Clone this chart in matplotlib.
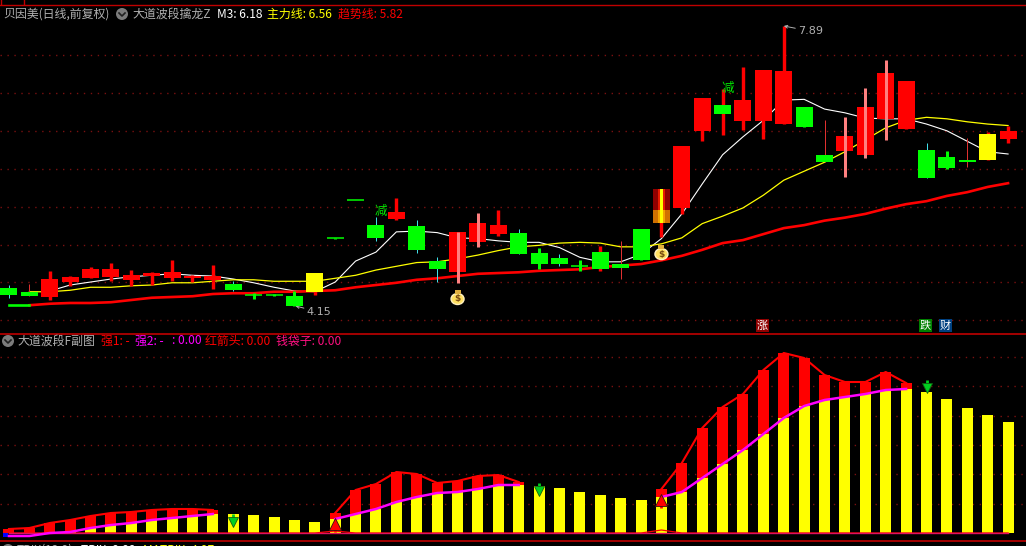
import matplotlib
matplotlib.use("Agg")
import matplotlib.pyplot as plt
import numpy as np
from matplotlib.colors import LinearSegmentedColormap
from matplotlib.patches import Circle, Ellipse, Rectangle

plt.rcParams['font.family'] = ['Noto Sans CJK SC', 'DejaVu Sans']

W, H = 1026, 546
nan = np.nan

# K线 data, one value per day
opens = [4.39, 4.34, 4.27, 4.47, 4.52, 4.54, 4.50, 4.55, 4.52, 4.52,
         4.50, 4.44, 4.30, 4.30, 4.28, 4.34, 5.06, 5.57, 5.23, 5.31,
         5.22, 4.75, 4.60, 5.00, 5.11, 5.13, 4.86, 4.79, 4.68, 4.87,
         4.71, 5.18, 5.26, 5.46, 6.49, 6.83, 6.62, 6.62, 6.58, 6.81,
         6.17, 6.22, 6.17, 6.65, 6.51, 6.23, 6.14, 6.10, 6.10, 6.38]
closes = [4.30, 4.28, 4.51, 4.54, 4.64, 4.64, 4.56, 4.59, 4.60, 4.55,
          4.55, 4.36, 4.28, 4.28, 4.15, 4.59, 5.05, 5.56, 5.06, 5.41,
          4.90, 4.64, 5.14, 5.26, 5.23, 4.84, 4.71, 4.71, 4.66, 4.64,
          4.66, 4.77, 5.71, 6.29, 6.93, 6.71, 6.90, 7.30, 7.29, 6.54,
          6.07, 6.42, 6.81, 7.26, 7.16, 5.86, 5.99, 6.07, 6.45, 6.49]
highs = [4.43, 4.44, 4.62, 4.55, 4.67, 4.72, 4.63, 4.60, 4.76, 4.56,
         4.70, 4.48, 4.32, 4.31, 4.35, 4.59, 5.06, 5.57, 5.34, 5.59,
         5.30, 4.81, 5.14, 5.39, 5.43, 5.18, 4.93, 4.84, 4.76, 4.95,
         5.02, 5.18, 5.71, 6.29, 6.93, 7.05, 7.34, 7.30, 7.89, 6.81,
         6.63, 6.67, 7.06, 7.44, 7.16, 6.33, 6.22, 6.39, 6.47, 6.55]
lows = [4.26, 4.28, 4.23, 4.42, 4.52, 4.48, 4.42, 4.43, 4.48, 4.47,
        4.38, 4.35, 4.24, 4.28, 4.15, 4.30, 5.05, 5.56, 5.02, 5.30,
        4.86, 4.47, 4.46, 4.94, 5.09, 4.84, 4.64, 4.68, 4.62, 4.62,
        4.51, 4.77, 5.07, 5.38, 6.35, 6.43, 6.50, 6.38, 6.58, 6.54,
        6.07, 5.87, 6.13, 6.37, 6.51, 5.86, 5.98, 6.01, 6.10, 6.33]

# r red, g green, y yellow, f flame
body_kinds = list("ggrrrrrrrrr" "gggg" "y" "ggg" "r" "gg" "rrr" "ggggggg" "f" "rr" "g" "rrr" "gg" "rrrr" "ggg" "y" "r")
# c cyan, r thick red, t thin red, p pink, g green
wick_kinds = list("ctrrrrrrrrr" "cggg" "r" "gg" "c" "r" "cc" "ppr" "cgcgr" "t" "g" "rr" "rrrrr" "g" "t" "ppp" "r" "c" "g" "t" "rr")

ma_white = [4.35, 4.43, 4.47, 4.51, 4.54, 4.56, 4.58, 4.56, 4.55, 4.51,
            4.46, 4.40, 4.35, 4.34,
            4.47, 4.75, 4.87, 5.14, 5.15, 5.13, 5.06, 5.05, 5.02, 5.00,
            5.00, 4.93, 4.80, 4.74, 4.74, 4.84, 5.05, 5.38, 5.78, 6.17,
            6.41, 6.63, 6.90, 6.91, 6.78, 6.73, 6.66, 6.65, 6.65, 6.58,
            6.49, 6.35, 6.21, 6.18]
ma_yellow = [4.34, 4.34, 4.36, 4.40, 4.40, 4.42, 4.43, 4.46, 4.46, 4.48,
             4.50, 4.50, 4.48, 4.48, 4.48, 4.52, 4.56, 4.63, 4.68, 4.73,
             4.74, 4.78, 4.83, 4.89, 4.94, 4.96, 4.99, 5.00, 4.99, 4.94,
             4.94, 4.98, 5.06, 5.25, 5.35, 5.46, 5.63, 5.83, 5.95, 6.07,
             6.21, 6.37, 6.53, 6.63, 6.67, 6.65, 6.61, 6.58, 6.56]
ma_red = [4.16, 4.16, 4.18, 4.19, 4.19, 4.20, 4.23, 4.26, 4.27, 4.28,
          4.31, 4.32, 4.32, 4.34, 4.34, 4.35, 4.36, 4.40, 4.43, 4.46,
          4.50, 4.52, 4.55, 4.58, 4.59, 4.60, 4.62, 4.63, 4.64, 4.67,
          4.69, 4.71, 4.76, 4.82, 4.90, 4.99, 5.03, 5.11, 5.19, 5.23,
          5.29, 5.33, 5.38, 5.45, 5.51, 5.55, 5.62, 5.67, 5.74, 5.79]

# 副图
trix = [0.20, 0.25, 0.50, 0.65, 0.85, 1.00, 1.05, 1.15, 1.20, 1.20,
        1.15, 0.95, 0.90, 0.80, 0.65, 0.55, 1.00, 2.15, 2.45, 3.05,
        2.95, 2.50, 2.60, 2.85, 2.90, 2.55, 2.35, 2.25, 2.05, 1.90,
        1.75, 1.65, 2.20, 3.50, 5.25, 6.30, 6.95, 8.15, 9.00, 8.75,
        7.90, 7.55, 7.55, 8.05, 7.50, 7.05, 6.70, 6.25, 5.90, 5.55]
matrix = [-0.15, -0.15, 0.00, 0.05, 0.25, 0.40, 0.50, 0.65, 0.75, 0.85,
          0.95, nan, nan, nan, nan, nan, 0.70, 0.95, 1.20, 1.55,
          1.80, 2.00, 2.05, 2.20, 2.40, 2.40, nan, nan, nan, nan,
          nan, nan, 1.80, 2.05, 2.75, 3.45, 4.15, 4.95, 5.75, 6.35,
          6.65, 6.80, 6.95, 7.15, 7.20, nan, nan, nan, nan, nan]
hong_line = [0, 0, 0, 0, 0, 0, 0, 0, 0, 0,
             0, 0, 0, 0, 0, 0, 0.10, 0, 0, 0,
             0, 0, 0, 0, 0, 0, 0, 0, 0, 0,
             0, 0, 0.15, 0, 0, 0, 0, 0, 0, 0,
             0, 0, 0, 0, 0, 0, 0, 0, 0, 0]
green_arrows = [11, 26, 45]
green_tips = [0.35, 1.90, 7.05]
red_arrows = [16, 32]
red_tips = [0.60, 1.80]
bag_days = [22, 32]
bag_prices = [4.27, 4.87]

price_grid = [7.50, 6.99, 6.49, 5.98, 5.47, 4.96, 4.47, 3.96]
sub_grid = [8.80, 7.35, 5.85, 4.40, 2.95, 1.45]

body_colors = {'r': '#ff0000', 'g': '#00ff00', 'y': '#ffff00', 'f': '#ff0000'}
wick_styles = {'c': ('#40e0e8', 1.0), 'r': ('#ff0000', 3.4), 't': ('#e03030', 1.0),
               'p': ('#ff8080', 3.0), 'g': ('#00ff00', 3.0)}
DOT = (0, (1, 4))
GRID = '#7a1010'


def to_fig(x0, y0, x1, y1):
    return [x0 / W, 1 - y1 / H, (x1 - x0) / W, (y1 - y0) / H]


fig = plt.figure(figsize=(W / 100, H / 100), dpi=100, facecolor='black')

ax = fig.add_axes(to_fig(0, 5, W, 333), facecolor='black')
ax2 = fig.add_axes(to_fig(0, 334, W, 540), facecolor='black')
over = fig.add_axes([0, 0, 1, 1], facecolor='none')
over.set_xlim(0, W)
over.set_ylim(H, 0)
over.axis('off')

days = np.arange(len(opens))
for a in (ax, ax2):
    a.set_xlim(-0.441, 49.88)
    a.set_xticks([])
    a.set_yticks([])
    for s in a.spines.values():
        s.set_visible(False)

# price panel: y pixel 26 is 7.89, y pixel 306 is 4.15
ylim_price = (8.237 - 333 * 0.013357, 8.237 - 5 * 0.013357)
ax.set_ylim(*ylim_price)
for g in price_grid:
    ax.axhline(g, color=GRID, lw=1, ls=DOT, zorder=1)

ax.plot(days[2:], ma_white, color='white', lw=0.8, zorder=2)
ax.plot(days[1:], ma_yellow, color='#ffff00', lw=0.9, zorder=2)
ax.plot(days[1:], ma_red[1:], color='#ff0000', lw=1.9, zorder=2)
ax.plot(days[:2], ma_red[:2], color='#00ff00', lw=1.9, zorder=3)

flame_top = LinearSegmentedColormap.from_list('flame_top', ['#900000', '#ff2000', '#ffff00'])
flame_low = LinearSegmentedColormap.from_list('flame_low', ['#d07000', '#ffb000', '#ffff00'])
flame_grad = np.array([0.0, 0.0, 0.4, 1, 0.4, 0.0, 0.0])[None, :]

bw = 17 / 20.39
for i in days:
    wc, ww = wick_styles[wick_kinds[i]]
    ax.plot([i, i], [lows[i], highs[i]], color=wc, lw=ww * 0.72,
            zorder=5 if wick_kinds[i] == 'p' else 3, solid_capstyle='butt')
    lo, hi = sorted((opens[i], closes[i]))
    kind = body_kinds[i]
    if kind == 'f':
        mid = lo + (hi - lo) * 0.38
        ax.imshow(flame_grad, cmap=flame_top, extent=(i - bw / 2, i + bw / 2, mid, hi),
                  aspect='auto', zorder=4, vmin=0, vmax=1, interpolation='nearest')
        ax.imshow(flame_grad, cmap=flame_low, extent=(i - bw / 2, i + bw / 2, lo, mid),
                  aspect='auto', zorder=4, vmin=0, vmax=1, interpolation='nearest')
    elif hi - lo < 0.02:
        # nearly flat day, a filled box this thin can vanish when rendered
        ax.plot([i - bw / 2, i + bw / 2], [hi, hi], color=body_colors[kind], lw=1.1,
                solid_capstyle='butt', zorder=4)
    else:
        ax.add_patch(Rectangle((i - bw / 2, lo), bw, hi - lo, fc=body_colors[kind],
                               ec='none', lw=0, zorder=4, snap=True))
ax.set_xlim(-0.441, 49.88)
ax.set_ylim(*ylim_price)

# 减 marks and high / low notes
for i, y in [(18, 5.41), (35, 7.05)]:
    ax.text(i + 0.25, y, '减', color='#00e800', fontsize=9, ha='center', va='center', zorder=6)
note_arrow = dict(arrowstyle='->', color='#b0b0b0', lw=0.7, shrinkA=0, shrinkB=0, mutation_scale=5)
ax.annotate('7.89', xy=(38, 7.89), xytext=(38.7, 7.82), color='#b0b0b0', fontsize=8, va='center',
            family='DejaVu Sans', arrowprops=note_arrow)
ax.annotate('4.15', xy=(14.05, 4.15), xytext=(14.6, 4.07), color='#b0b0b0', fontsize=8, va='center',
            family='DejaVu Sans', arrowprops=note_arrow)

# money bags
for i, y in zip(bag_days, bag_prices):
    xd = ax.transData.transform((i, y))
    px, py = xd[0], H - xd[1]
    over.add_patch(Ellipse((px, py + 2), 13, 11, fc='#ffe060', ec='#fff0c0', lw=1, zorder=7))
    over.add_patch(Rectangle((px - 3, py - 7), 6, 4, fc='#e0b040', ec='none', zorder=7))
    over.text(px, py + 2, '$', color='#7a4a10', fontsize=6.5, ha='center', va='center', weight='bold',
              family='DejaVu Sans', zorder=8)

# sub panel: y pixel 533 is zero, 0.05 per pixel
ax2.set_ylim(-7 * 0.05, 199 * 0.05)
for g in sub_grid:
    ax2.axhline(g, color=GRID, lw=1, ls=DOT, zorder=1)

trix_arr = np.array(trix)
matrix_arr = np.array(matrix)
yellow_h = np.clip(np.where(np.isnan(matrix_arr), trix_arr, np.minimum(trix_arr, matrix_arr)), 0, None)
yellow_h[:3] = 0
bar_w = 11 / 20.39
ax2.bar(days, yellow_h, width=bar_w, color='#ffff00', lw=0, zorder=2)
ax2.bar(days, trix_arr - yellow_h, bottom=yellow_h, width=bar_w, color='#ff0000', lw=0, zorder=3)
ax2.bar([-0.3], [-0.2], width=5 / 20.39, color='#0000ff', lw=0, zorder=3, align='edge')

trix_line = np.where(np.isnan(matrix_arr), nan, trix_arr)
ax2.plot(days, trix_line, color='#ff0000', lw=1.5, zorder=4)
ax2.plot(days, hong_line, color='#ff0000', lw=0.9, zorder=4)
ax2.plot(days, np.zeros(len(days)), color='#e01060', lw=1.0, zorder=5)
ax2.plot(days, matrix_arr, color='#ff00ff', lw=1.8, zorder=6)

for i, tip in zip(green_arrows, green_tips):
    ax2.plot([i, i], [tip + 0.6, tip + 0.1], color='#00d020', lw=2.0, solid_capstyle='butt', zorder=7)
    ax2.plot([i], [tip + 0.18], marker='v', ms=7, color='#00d020', mec='#106010', mew=0.6, zorder=7)
for i, tip in zip(red_arrows, red_tips):
    ax2.plot([i, i], [tip - 0.55, tip], color='#ff0000', lw=2.0, solid_capstyle='butt', zorder=7)
    ax2.plot([i], [tip - 0.15], marker='^', ms=8, color='#ff0000', mec='#301010', mew=0.6, zorder=7)

# borders
over.axhline(4.5, color='#c00000', lw=1)
over.plot([1, 1], [0, 4], color='#c00000', lw=1)
over.plot([23.5, 23.5], [0, 4], color='#c00000', lw=1)
over.axhline(333.5, color='#c00000', lw=1.2)
over.axhline(540.5, color='#c00000', lw=1.2)


def chev(x, y):
    over.add_patch(Circle((x, y), 6, fc='#7c7c7c', ec='none', zorder=9))
    over.plot([x - 3, x, x + 3], [y - 1, y + 2, y - 1], color='#202020', lw=1.2, zorder=10)


def header(x, y, parts, size=8.6):
    for text, color, dx in parts:
        over.text(x + dx, y, text, color=color, fontsize=size, va='center', ha='left', zorder=10)


header(3, 14, [('贝因美(日线,前复权)', '#b0b0b0', 0), ('大道波段擒龙Z', '#b0b0b0', 129),
               ('M3: 6.18', '#ffffff', 214), ('主力线: 6.56', '#ffff00', 264), ('趋势线: 5.82', '#ff0000', 335)])
chev(122, 14)
header(17, 341, [('大道波段F副图', '#b0b0b0', 0), ('强1: -', '#ff0000', 84), ('强2: -', '#ff00ff', 118),
                 (': 0.00', '#ff00ff', 155), ('红箭头: 0.00', '#ff0000', 188), ('钱袋子: 0.00', '#ff1080', 259)])
chev(8, 341)

# legend of the panel below, the picture cuts it off at the bottom
header(17, 550, [('TRIX(12,9)', '#b0b0b0', 0), ('TRIX: 8.88', '#ffffff', 64), ('MATRIX: 4.97', '#ffff00', 126)])
chev(8, 550)

for x, label, fill in [(762.5, '涨', '#900000'), (925.5, '跌', '#008000'), (945.5, '财', '#004080')]:
    over.add_patch(Rectangle((x - 6.5, 319), 13, 13, fc=fill, ec='none', zorder=9))
    over.text(x, 325.5, label, color='white', fontsize=8, ha='center', va='center', zorder=10)

fig.savefig('out.png', dpi=100, facecolor='black')
